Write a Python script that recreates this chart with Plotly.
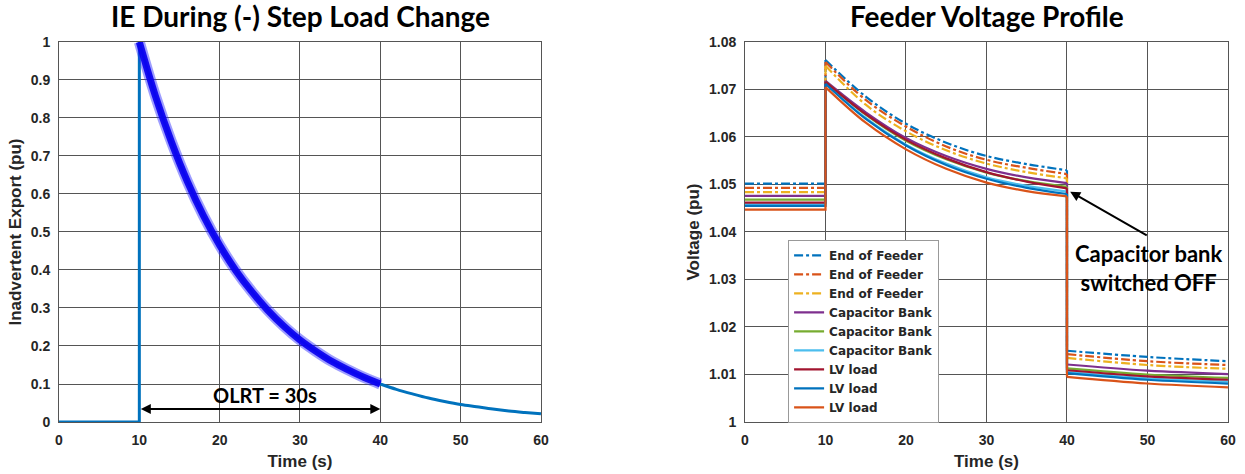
import plotly.graph_objects as go

# ---------------- Left chart data ----------------
ie_step_t = [0, 10, 10]
ie_step_v = [0, 0, 1.0]
ie_decay_t = [10, 12, 14, 16, 18, 20, 22, 24, 26, 28, 30, 32, 34, 36, 38, 40]
ie_decay_v = [1.0, 0.858, 0.737, 0.632, 0.542, 0.465, 0.399, 0.343, 0.294, 0.252,
              0.216, 0.186, 0.159, 0.137, 0.117, 0.100]
ie_tail_t = [40, 42, 44, 46, 48, 50, 52, 54, 56, 58, 60]
ie_tail_v = [0.100, 0.086, 0.074, 0.063, 0.054, 0.046, 0.040, 0.034, 0.029, 0.025, 0.0215]

# ---------------- Right chart data ----------------
series_names = ["End of Feeder", "End of Feeder", "End of Feeder",
                "Capacitor Bank", "Capacitor Bank", "Capacitor Bank",
                "LV load", "LV load", "LV load"]
series_colors = ["#0072BD", "#D95319", "#EDB120", "#7E2F8E", "#77AC30",
                 "#4DBEEE", "#A2142F", "#0072BD", "#D95319"]
series_dash = ["dashdot", "dashdot", "dashdot", "solid", "solid", "solid",
               "solid", "solid", "solid"]

pre_level = [1.0502, 1.0493, 1.0484, 1.0476, 1.0468, 1.0458, 1.0462, 1.0455, 1.0447]

decay_t = [10, 15, 20, 25, 30, 35, 40]
decay_v = [
    [1.0762, 1.0685, 1.0628, 1.0588, 1.0560, 1.0543, 1.0530],
    [1.0758, 1.0678, 1.0622, 1.0580, 1.0552, 1.0535, 1.0522],
    [1.0750, 1.0668, 1.0612, 1.0572, 1.0544, 1.0526, 1.0513],
    [1.0718, 1.0652, 1.0598, 1.0560, 1.0533, 1.0515, 1.0503],
    [1.0716, 1.0647, 1.0592, 1.0553, 1.0525, 1.0507, 1.0495],
    [1.0712, 1.0640, 1.0584, 1.0544, 1.0515, 1.0497, 1.0485],
    [1.0716, 1.0648, 1.0594, 1.0555, 1.0526, 1.0506, 1.0492],
    [1.0712, 1.0638, 1.0582, 1.0541, 1.0512, 1.0493, 1.0480],
    [1.0705, 1.0630, 1.0574, 1.0533, 1.0504, 1.0486, 1.0475],
]

post_t = [40, 50, 60]
post_v = [
    [1.0150, 1.0137, 1.0128],
    [1.0143, 1.0128, 1.0120],
    [1.0135, 1.0120, 1.0112],
    [1.0121, 1.0108, 1.0101],
    [1.0113, 1.0100, 1.0093],
    [1.0105, 1.0092, 1.0085],
    [1.0109, 1.0096, 1.0089],
    [1.0103, 1.0089, 1.0081],
    [1.0095, 1.0081, 1.0073],
]

x_ticks = [0, 10, 20, 30, 40, 50, 60]
left_y_ticks = [0, 0.1, 0.2, 0.3, 0.4, 0.5, 0.6, 0.7, 0.8, 0.9, 1]
right_y_ticks = [1, 1.01, 1.02, 1.03, 1.04, 1.05, 1.06, 1.07, 1.08]

fig = go.Figure()

base_blue = "#0072BD"
# Left plot traces
fig.add_trace(go.Scatter(x=ie_step_t, y=ie_step_v, mode="lines",
                         line=dict(color=base_blue, width=3), showlegend=False,
                         xaxis="x", yaxis="y"))
fig.add_trace(go.Scatter(x=ie_decay_t, y=ie_decay_v, mode="lines",
                         line=dict(color=base_blue, width=3, shape="spline"),
                         showlegend=False, xaxis="x", yaxis="y"))
fig.add_trace(go.Scatter(x=ie_tail_t, y=ie_tail_v, mode="lines",
                         line=dict(color=base_blue, width=3, shape="spline"),
                         showlegend=False, xaxis="x", yaxis="y"))
fig.add_trace(go.Scatter(x=ie_decay_t, y=ie_decay_v, mode="lines",
                         line=dict(color="rgba(40,40,255,0.45)", width=11, shape="spline"),
                         showlegend=False, xaxis="x", yaxis="y"))
fig.add_trace(go.Scatter(x=ie_decay_t, y=ie_decay_v, mode="lines",
                         line=dict(color="rgba(10,0,240,0.92)", width=7, shape="spline"),
                         showlegend=False, xaxis="x", yaxis="y"))

# Right plot traces
for i in range(len(series_names)):
    lw = 2.2
    xs = [0, 10, 10, None, decay_t[-1], post_t[0]]
    ys = [pre_level[i], pre_level[i], decay_v[i][0], None, decay_v[i][-1], post_v[i][0]]
    fig.add_trace(go.Scatter(x=xs, y=ys, mode="lines",
                             line=dict(color=series_colors[i], width=lw, dash=series_dash[i]),
                             showlegend=False, legendgroup=f"s{i}",
                             xaxis="x2", yaxis="y2"))
    fig.add_trace(go.Scatter(x=decay_t, y=decay_v[i], mode="lines", name=series_names[i],
                             line=dict(color=series_colors[i], width=lw, dash=series_dash[i],
                                       shape="spline"),
                             legendgroup=f"s{i}", showlegend=True,
                             xaxis="x2", yaxis="y2"))
    fig.add_trace(go.Scatter(x=post_t, y=post_v[i], mode="lines",
                             line=dict(color=series_colors[i], width=lw, dash=series_dash[i],
                                       shape="spline"),
                             showlegend=False, legendgroup=f"s{i}",
                             xaxis="x2", yaxis="y2"))

tick_font = dict(family="Liberation Sans, Arial", size=14, color="#262626", weight="bold")
title_font = dict(family="Liberation Sans, Arial", size=17, color="#262626", weight="bold")
grid = "#555555"

ydom = [0.1097, 0.9114]
axis_common = dict(showgrid=True, gridcolor=grid, gridwidth=1, showline=True,
                   linecolor="#555555", linewidth=1, mirror=True, ticks="",
                   zeroline=False, tickfont=tick_font, automargin=False,
                   ticklabelstandoff=5)

fig.update_layout(
    width=1245, height=474,
    margin=dict(l=0, r=0, t=0, b=0),
    paper_bgcolor="white", plot_bgcolor="white",
    xaxis=dict(domain=[0.0474, 0.4345], range=[0, 60], tickvals=x_ticks,
               title=dict(text="Time (s)", font=title_font, standoff=8),
               **axis_common),
    yaxis=dict(domain=ydom, range=[0, 1], tickvals=left_y_ticks,
               title=dict(text="Inadvertent Export (pu)", font=title_font, standoff=4),
               **axis_common),
    xaxis2=dict(domain=[0.5984, 0.9863], range=[0, 60], tickvals=x_ticks, anchor="y2",
                title=dict(text="Time (s)", font=title_font, standoff=8),
                **axis_common),
    yaxis2=dict(domain=ydom, range=[1, 1.08], tickvals=right_y_ticks, anchor="x2",
                title=dict(text="Voltage (pu)", font=title_font, standoff=4),
                **axis_common),
    legend=dict(x=0.633, y=0.494, xanchor="left", yanchor="top",
                bgcolor="white", bordercolor="#999999", borderwidth=1,
                font=dict(family="DejaVu Sans", size=12, color="#262626",
                          weight="bold"),
                tracegroupgap=0),
    annotations=[
        dict(text="<b>IE During (-) Step Load Change</b>", xref="paper", yref="paper",
             x=0.241, y=1.007, xanchor="center", yanchor="top", showarrow=False,
             font=dict(family="Lato, Open Sans", size=28, color="black")),
        dict(text="<b>Feeder Voltage Profile</b>", xref="paper", yref="paper",
             x=0.7925, y=1.007, xanchor="center", yanchor="top", showarrow=False,
             font=dict(family="Lato, Open Sans", size=28, color="black")),
        dict(text="<b>OLRT = 30s</b>", xref="x", yref="y", x=25.6, y=0.071,
             showarrow=False, font=dict(family="Lato, Open Sans", size=20, color="black")),
        dict(text="", xref="x", yref="y", axref="x", ayref="y", x=40, y=0.034,
             ax=10, ay=0.034, showarrow=True, arrowside="end+start", arrowhead=2,
             arrowsize=1, arrowwidth=2, arrowcolor="black"),
        dict(text="", xref="x2", yref="y2", axref="x2", ayref="y2", x=40.4, y=1.0485,
             ax=50.1, ay=1.0391, showarrow=True, arrowhead=2, arrowsize=1,
             arrowwidth=2, arrowcolor="black"),
        dict(text="<b>Capacitor bank<br>switched OFF</b>", xref="x2", yref="y2",
             x=50.1, y=1.0325, showarrow=False,
             font=dict(family="Lato, Open Sans", size=22, color="black")),
    ],
)

fig.write_html("out.html")
